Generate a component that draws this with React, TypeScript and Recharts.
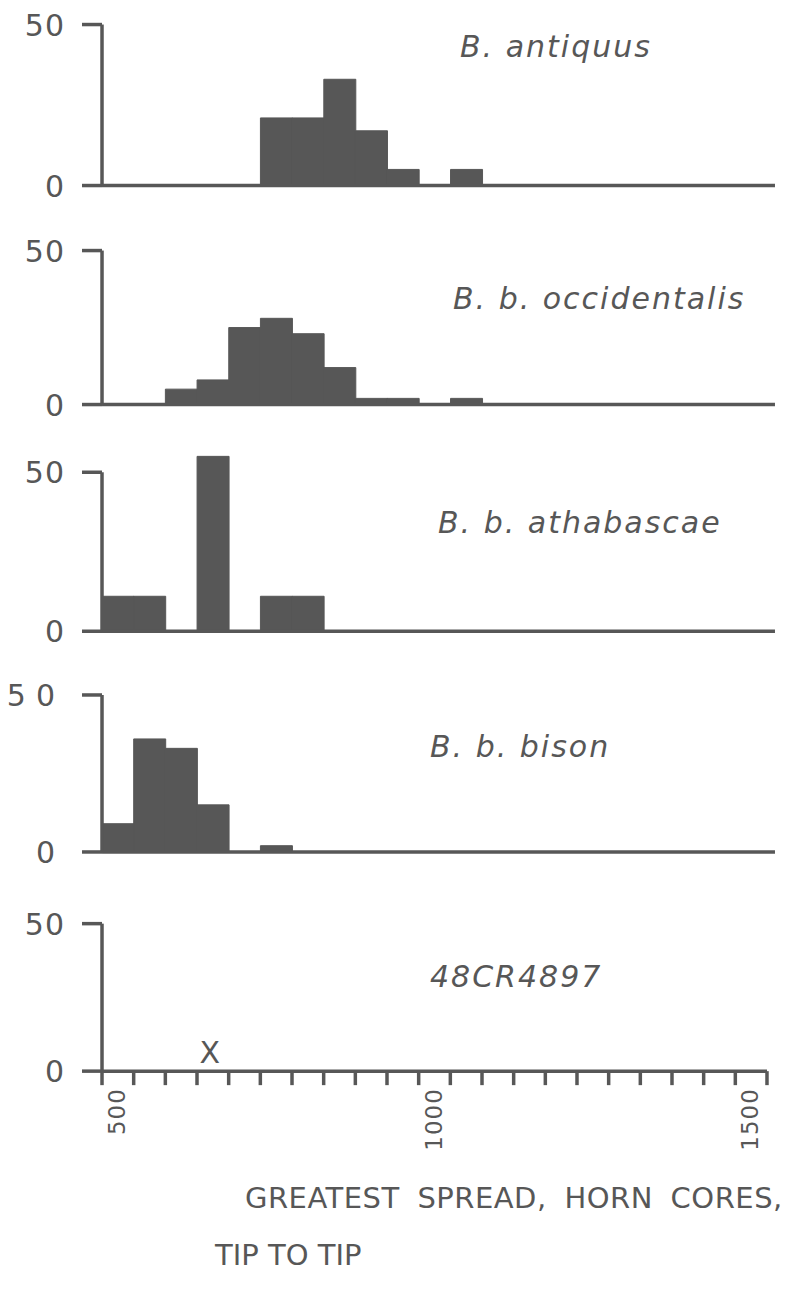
import React from 'react';
import { ComposedChart, Bar, XAxis, YAxis, ReferenceLine, Scatter } from 'recharts';

// Bin centres (50-wide bins from 500 to 1550)
const BIN_CENTERS = [525, 575, 625, 675, 725, 775, 825, 875, 925, 975, 1025, 1075, 1125, 1175, 1225, 1275, 1325, 1375, 1425, 1475, 1525];
const ANTIQUUS = [0, 0, 0, 0, 0, 21, 21, 33, 17, 5, 0, 5, 0, 0, 0, 0, 0, 0, 0, 0, 0];
const OCCIDENTALIS = [0, 0, 5, 8, 25, 28, 23, 12, 2, 2, 0, 2, 0, 0, 0, 0, 0, 0, 0, 0, 0];
const ATHABASCAE = [11, 11, 0, 55, 0, 11, 11, 0, 0, 0, 0, 0, 0, 0, 0, 0, 0, 0, 0, 0, 0];
const BISON = [9, 36, 33, 15, 0, 2, 0, 0, 0, 0, 0, 0, 0, 0, 0, 0, 0, 0, 0, 0, 0];
const SPECIMEN_X = [670];

const X_TICKS = [500, 550, 600, 650, 700, 750, 800, 850, 900, 950, 1000, 1050, 1100, 1150, 1200, 1250, 1300, 1350, 1400, 1450, 1500, 1550];
const X_LABELED = [500, 1000, 1500];
const Y_TICKS = [0, 50];

const SPECIES = ['B. antiquus', 'B. b. occidentalis', 'B. b. athabascae', 'B. b. bison', '48CR4897'];
const TITLE_1 = 'GREATEST SPREAD, HORN CORES,';
const TITLE_2 = 'TIP TO TIP';

const rows = BIN_CENTERS.map((x, i) => ({
  x,
  antiquus: ANTIQUUS[i],
  occidentalis: OCCIDENTALIS[i],
  athabascae: ATHABASCAE[i],
  bison: BISON[i],
}));
const specimenRows = SPECIMEN_X.map((x) => ({ x, y: 0 }));

const C = '#575757';
const FONT = '"DejaVu Sans", sans-serif';
const YMAX = 57;

const YTick = (props: any) => {
  const { x, y, payload, spacing } = props;
  return (
    <text x={x} y={y} dy={11} textAnchor="end" fontFamily={FONT} fontSize={30} fill={C} letterSpacing={spacing}>
      {String(payload.value)}
    </text>
  );
};

const XTick = (props: any) => {
  const { x, y, payload } = props;
  if (!X_LABELED.includes(payload.value)) return null;
  const ax = x + 23;
  return (
    <text x={ax} y={y} transform={`rotate(-90, ${ax}, ${y})`} textAnchor="end" fontFamily={FONT} fontSize={23} fill={C} letterSpacing={1}>
      {String(payload.value)}
    </text>
  );
};

const XMark = (props: any) => {
  const { cx, cy } = props;
  return (
    <text x={cx} y={cy - 8} textAnchor="middle" fontFamily={FONT} fontSize={30} fill={C}>
      X
    </text>
  );
};

type PanelProps = { zero: number; ppu: number; dataKey?: string; bottom?: boolean; spacing?: number };

function Panel({ zero, ppu, dataKey, bottom, spacing = 1 }: PanelProps) {
  const plotH = YMAX * ppu;
  const xAxisH = bottom ? 110 : 24;
  return (
    <div style={{ position: 'absolute', left: 0, top: zero - plotH }}>
      <ComposedChart
        width={790}
        height={plotH + xAxisH}
        data={rows}
        margin={{ top: 0, right: bottom ? 23 : 15, left: 0, bottom: 0 }}
        barCategoryGap={0}
        barGap={0}
      >
        {bottom ? (
          <XAxis
            dataKey="x"
            type="number"
            domain={[500, 1550]}
            ticks={X_TICKS}
            interval={0}
            height={xAxisH}
            axisLine={{ stroke: C, strokeWidth: 3.5 }}
            tickLine={{ stroke: C, strokeWidth: 3.5 }}
            tickSize={14}
            tickMargin={3}
            tick={<XTick />}
          />
        ) : (
          <XAxis
            dataKey="x"
            type="number"
            domain={[500, 1562]}
            height={xAxisH}
            axisLine={{ stroke: C, strokeWidth: 3.5 }}
            tickLine={false}
            tick={false}
          />
        )}
        <YAxis
          type="number"
          domain={[0, YMAX]}
          ticks={Y_TICKS}
          width={102}
          axisLine={false}
          tickLine={{ stroke: C, strokeWidth: 3.5 }}
          tickSize={20}
          tickMargin={17}
          tick={<YTick spacing={spacing} />}
        />
        {dataKey ? (
          <Bar dataKey={dataKey} fill={C} stroke={C} strokeWidth={1} isAnimationActive={false} />
        ) : null}
        {bottom ? (
          <Scatter data={specimenRows} dataKey="y" shape={<XMark />} isAnimationActive={false} />
        ) : null}
        <ReferenceLine
          segment={[{ x: 500, y: 0 }, { x: 500, y: 50 }]}
          stroke={C}
          strokeWidth={3.5}
          ifOverflow="visible"
        />
      </ComposedChart>
    </div>
  );
}

export default function App() {
  const labelStyle = { fontFamily: FONT, fontStyle: 'italic' as const, fontSize: 30, fill: C, letterSpacing: 2 };
  return (
    <div style={{ position: 'absolute', left: 0, top: 0, width: 790, height: 1298, background: '#fff', overflow: 'hidden' }}>
      <Panel zero={186} ppu={3.22} dataKey="antiquus" />
      <Panel zero={405} ppu={3.08} dataKey="occidentalis" />
      <Panel zero={631} ppu={3.18} dataKey="athabascae" />
      <Panel zero={852} ppu={3.14} dataKey="bison" spacing={10} />
      <Panel zero={1071} ppu={2.95} bottom />
      <svg width={790} height={1298} style={{ position: 'absolute', left: 0, top: 0, pointerEvents: 'none' }}>
        <text x={460} y={57} {...labelStyle}>{SPECIES[0]}</text>
        <text x={453} y={309} {...labelStyle}>{SPECIES[1]}</text>
        <text x={438} y={533} {...labelStyle}>{SPECIES[2]}</text>
        <text x={430} y={757} {...labelStyle}>{SPECIES[3]}</text>
        <text x={430} y={987} {...labelStyle}>{SPECIES[4]}</text>
        <text x={245} y={1208} fontFamily={FONT} fontSize={29} fill={C} letterSpacing={0.5} wordSpacing={8}>
          {TITLE_1}
        </text>
        <text x={215} y={1265} fontFamily={FONT} fontSize={29} fill={C}>
          {TITLE_2}
        </text>
      </svg>
    </div>
  );
}
